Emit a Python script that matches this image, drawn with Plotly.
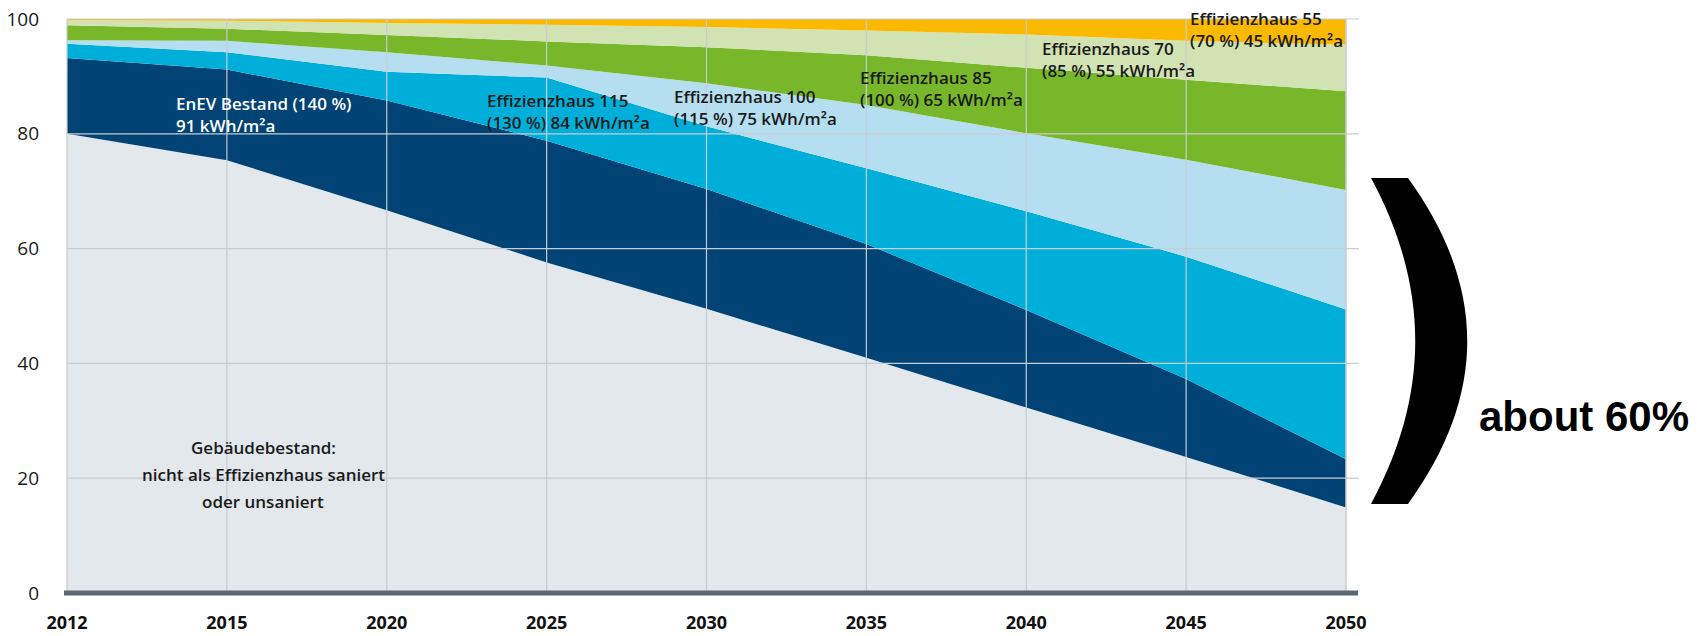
import plotly.graph_objects as go

# x categories (equally spaced on the chart)
years = ["2012", "2015", "2020", "2025", "2030", "2035", "2040", "2045", "2050"]

# stacked shares in % (bottom -> top)
bestand = [80.0, 75.4, 66.7, 57.6, 49.5, 41.0, 32.3, 23.7, 14.9]
enev = [13.2, 15.8, 19.1, 21.2, 20.9, 19.8, 17.0, 13.6, 8.4]
eh115 = [2.5, 3.0, 5.0, 11.0, 10.9, 13.2, 17.2, 21.3, 26.1]
eh100 = [0.6, 2.0, 3.4, 2.1, 7.5, 11.0, 13.6, 16.9, 20.8]
eh85 = [2.6, 2.1, 3.0, 4.2, 6.3, 8.7, 11.4, 13.9, 17.2]
eh70 = [0.9, 1.4, 2.1, 2.9, 3.5, 4.3, 5.8, 6.8, 8.1]
eh55 = [0.2, 0.3, 0.7, 1.0, 1.4, 2.0, 2.7, 3.8, 4.5]

y_ticks = [0, 20, 40, 60, 80, 100]

layers = [
    ("Gebäudebestand", bestand, "#e2e8ec"),
    ("EnEV Bestand", enev, "#004374"),
    ("Effizienzhaus 115", eh115, "#00afd9"),
    ("Effizienzhaus 100", eh100, "#b5dff1"),
    ("Effizienzhaus 85", eh85, "#78b72a"),
    ("Effizienzhaus 70", eh70, "#d1e2b3"),
    ("Effizienzhaus 55", eh55, "#fbb900"),
]

W, H = 1708, 636
L, R, T, B = 67, 362, 19, 43
FONT = "Open Sans, Roboto, Liberation Sans, sans-serif"


def px_x(px):
    return (px - L) / (W - L - R)


def px_y(py):
    return (H - B - py) / (H - T - B)


fig = go.Figure()
for name, vals, col in layers:
    fig.add_trace(go.Scatter(x=years, y=vals, name=name, stackgroup="one",
                             mode="none", fillcolor=col, hoverinfo="skip"))

# gridlines drawn on top of the areas
shapes = []
for i in range(len(years)):
    xp = i / (len(years) - 1)
    shapes.append(dict(type="line", xref="paper", yref="paper", x0=xp, x1=xp, y0=0, y1=1,
                       line=dict(color="#c7cdd2", width=1.5 if i == len(years) - 1 else 1.2),
                       layer="above"))
for v in y_ticks[1:]:
    yp = v / 100
    shapes.append(dict(type="line", xref="paper", yref="paper", x0=0, x1=px_x(1359), y0=yp, y1=yp,
                       line=dict(color="#c7cdd2", width=1.2), layer="above"))
# thick base line
shapes.append(dict(type="line", xref="paper", yref="paper", x0=px_x(64), x1=px_x(1358), y0=0, y1=0,
                   line=dict(color="#5a6670", width=5), layer="above"))

# big bracket on the right
bx = [px_x(v) for v in (1371, 1408, 1487, 1415, 1430)]
by = [px_y(v) for v in (178, 287, 395, 504)]
path = (f"M {bx[0]},{by[0]} L {bx[1]},{by[0]} "
        f"C {bx[2]},{by[1]} {bx[2]},{by[2]} {bx[1]},{by[3]} "
        f"L {bx[0]},{by[3]} "
        f"C {bx[4]},{by[2]} {bx[4]},{by[1]} {bx[0]},{by[0]} Z")
shapes.append(dict(type="path", xref="paper", yref="paper", path=path,
                   fillcolor="black", line=dict(width=0)))

annotations = []
labels = [
    ("EnEV Bestand (140 %)<br>91 kWh/m²a", 174, 90, "white"),
    ("Effizienzhaus 115<br>(130 %) 84 kWh/m²a", 485, 87, "#1a1a1a"),
    ("Effizienzhaus 100<br>(115 %) 75 kWh/m²a", 672, 83, "#1a1a1a"),
    ("Effizienzhaus 85<br>(100 %) 65 kWh/m²a", 858, 64, "#1a1a1a"),
    ("Effizienzhaus 70<br>(85 %) 55 kWh/m²a", 1040, 35, "#1a1a1a"),
    ("Effizienzhaus 55<br>(70 %) 45 kWh/m²a", 1188, 5, "#1a1a1a"),
]
for txt, x, y, col in labels:
    annotations.append(dict(text=txt, x=px_x(x), y=px_y(y), xref="paper", yref="paper",
                            xanchor="left", yanchor="top", align="left", showarrow=False,
                            font=dict(family=FONT, size=17, color=col, weight=600)))

bestand_lines = ["Gebäudebestand:", "nicht als Effizienzhaus saniert", "oder unsaniert"]
for i, line in enumerate(bestand_lines):
    annotations.append(dict(text=line, x=px_x(263), y=px_y(434 + i * 27), xref="paper", yref="paper",
                            xanchor="center", yanchor="top", showarrow=False,
                            font=dict(family=FONT, size=17, color="#1a1a1a", weight=600)))

annotations.append(dict(text="<b>about 60%</b>", x=px_x(1584), y=px_y(416), xref="paper", yref="paper",
                        xanchor="center", yanchor="middle", showarrow=False,
                        font=dict(family="Liberation Sans, Arial, sans-serif", size=42, color="black")))

fig.update_layout(
    width=W, height=H,
    margin=dict(l=L, r=R, t=T, b=B),
    paper_bgcolor="white", plot_bgcolor="white",
    showlegend=False,
    shapes=shapes,
    annotations=annotations,
    xaxis=dict(type="category", range=[0, len(years) - 1], showgrid=False, zeroline=False,
               automargin=False,
               tickfont=dict(family=FONT, size=18, color="#111111", weight=700),
               ticklabelstandoff=17, fixedrange=True),
    yaxis=dict(range=[0, 100], tickvals=y_ticks, showgrid=False, zeroline=False,
               automargin=False,
               tickfont=dict(family=FONT, size=19, color="#1a1a1a"),
               ticklabelstandoff=27, fixedrange=True),
)

# drop the default page margin so the figure sits at the window corner
fig.write_html("out.html", config={"displayModeBar": False},
               post_script="document.body.style.margin='0';")
